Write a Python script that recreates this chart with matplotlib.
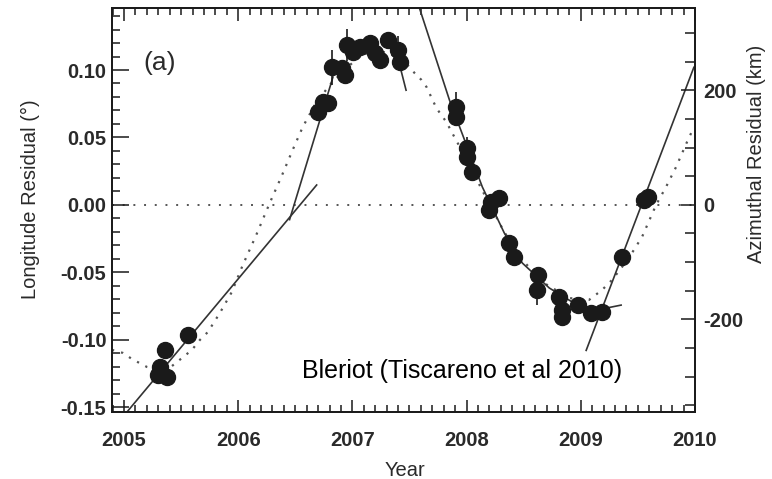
import matplotlib
matplotlib.use("Agg")
import matplotlib.pyplot as plt
from matplotlib.ticker import MultipleLocator
import numpy as np

plt.rcParams['font.family'] = ['Liberation Sans', 'DejaVu Sans']
plt.rcParams['axes.unicode_minus'] = False

# ---- data ----
obs_year = [2005.297, 2005.315, 2005.358, 2005.376, 2005.559,
            2006.696, 2006.740, 2006.783, 2006.818, 2006.906, 2006.932, 2006.949,
            2007.002, 2007.063, 2007.150, 2007.194, 2007.238, 2007.308, 2007.395, 2007.413,
            2007.911, 2007.911, 2008.007, 2008.007, 2008.051, 2008.199, 2008.217, 2008.287,
            2008.374, 2008.418, 2008.628, 2008.619, 2008.811, 2008.837, 2008.837,
            2008.977, 2009.091, 2009.187, 2009.362, 2009.554, 2009.589]
obs_resid = [-0.1264, -0.1204, -0.1077, -0.1279, -0.0963,
             0.0688, 0.0763, 0.0755, 0.1022, 0.1015, 0.0963, 0.1186,
             0.1134, 0.1171, 0.1200, 0.1126, 0.1074, 0.1223, 0.1149, 0.1060,
             0.0725, 0.0651, 0.0421, 0.0355, 0.0243, -0.0038, 0.0021, 0.0050,
             -0.0283, -0.0387, -0.0521, -0.0632, -0.0684, -0.0781, -0.0832,
             -0.0744, -0.0803, -0.0796, -0.0387, 0.0036, 0.0058]
obs_err = [0.004, 0.004, 0.004, 0.004, 0.004,
           0.006, 0.004, 0.004, 0.013, 0.004, 0.004, 0.012,
           0.004, 0.004, 0.004, 0.004, 0.004, 0.004, 0.010, 0.004,
           0.011, 0.004, 0.008, 0.004, 0.004, 0.004, 0.004, 0.004,
           0.004, 0.004, 0.004, 0.011, 0.004, 0.004, 0.004,
           0.004, 0.004, 0.004, 0.004, 0.004, 0.004]

# piecewise fits (solid lines)
fit1_year = [2005.026, 2006.687]
fit1_resid = [-0.1537, 0.0147]
fit2_year = [2006.45, 2006.83]
fit2_resid = [-0.011, 0.0948]
fit3_year = [2007.38, 2007.47]
fit3_resid = [0.115, 0.085]
fit4_year = [2007.587, 2007.850, 2008.138, 2008.330, 2008.488, 2008.724, 2008.925, 2009.135, 2009.353]
fit4_resid = [0.1460, 0.0777, 0.0132, -0.0209, -0.0432, -0.0617, -0.0721, -0.0781, -0.0744]
fit5_year = [2009.047, 2009.99]
fit5_resid = [-0.108, 0.102]

# dotted model curve
model_year = [2004.895, 2004.991, 2005.070, 2005.201, 2005.315, 2005.420, 2005.507, 2005.594,
              2005.664, 2005.734, 2005.839, 2005.944, 2006.040, 2006.154, 2006.276, 2006.381,
              2006.477, 2006.565, 2006.670, 2006.801, 2006.932, 2007.060, 2007.200, 2007.330,
              2007.483, 2007.544, 2007.605, 2007.649, 2007.736, 2007.823, 2007.893, 2007.955,
              2008.068, 2008.199, 2008.330, 2008.505, 2008.680, 2008.899, 2009.073, 2009.187,
              2009.274, 2009.362, 2009.449, 2009.537, 2009.659, 2009.746, 2009.834, 2009.930,
              2009.991]
model_resid = [-0.1076, -0.1099, -0.1144, -0.1203, -0.1226, -0.1196, -0.1137, -0.1077,
               -0.1003, -0.0944, -0.0803, -0.0647, -0.0447, -0.0232, 0.0013, 0.0214,
               0.0407, 0.0577, 0.0740, 0.0889, 0.1000, 0.1100, 0.1150, 0.1120,
               0.1037, 0.0978, 0.0926, 0.0874, 0.0717, 0.0614, 0.0503, 0.0407,
               0.0221, 0.0006, -0.0202, -0.0425, -0.0581, -0.0692, -0.0705, -0.0631,
               -0.0557, -0.0460, -0.0356, -0.0237, -0.0001, 0.0132, 0.0280, 0.0466,
               0.0577]

km_per_deg = 2354.0
xlim = (2004.895, 2010.0)
ylim = (-0.1537, 0.146)

# ---- figure ----
W, H = 772, 479
fig = plt.figure(figsize=(W / 100, H / 100), dpi=100)
L, R, T, B = 112, 695, 8, 412
ax = fig.add_axes([L / W, 1 - B / H, (R - L) / W, (B - T) / H])

ink = '#1a1a1a'
line_c = '#333333'
dot_c = '#555555'

ax.axhline(0, color=dot_c, lw=1.4, ls=(0, (1, 4.5)), zorder=1)
ax.plot(model_year, model_resid, color=dot_c, lw=1.6, ls=(0, (1, 3.2)), zorder=1)
for xs, ys in [(fit1_year, fit1_resid), (fit2_year, fit2_resid), (fit3_year, fit3_resid),
               (fit4_year, fit4_resid), (fit5_year, fit5_resid)]:
    ax.plot(xs, ys, color=line_c, lw=1.2, zorder=2)
ax.errorbar(obs_year, obs_resid, yerr=obs_err, fmt='o', color=ink, ms=11.5,
            elinewidth=1.2, capsize=0, zorder=3)

ax.set_xlim(*xlim)
ax.set_ylim(*ylim)
ax.xaxis.set_major_locator(MultipleLocator(1))
ax.xaxis.set_minor_locator(MultipleLocator(0.1))
ax.yaxis.set_major_locator(MultipleLocator(0.05))
ax.yaxis.set_minor_locator(MultipleLocator(0.01))
ax.yaxis.set_major_formatter(matplotlib.ticker.FormatStrFormatter('%.2f'))
ax.tick_params(which='both', direction='in', top=True, right=False, color=ink, width=1.1)
ax.tick_params(which='major', length=9)
ax.tick_params(which='minor', length=5)
ax.tick_params(axis='y', which='major', length=12, pad=4)
ax.tick_params(axis='y', which='minor', length=6)
ax.tick_params(axis='x', which='major', pad=14)
for sp in ax.spines.values():
    sp.set_linewidth(1.3)
    sp.set_color(ink)

ax2 = ax.twinx()
ax2.set_ylim(ylim[0] * km_per_deg, ylim[1] * km_per_deg)
ax2.yaxis.set_major_locator(MultipleLocator(200))
ax2.yaxis.set_minor_locator(MultipleLocator(50))
ax2.tick_params(which='both', direction='in', color=ink, width=1.1, pad=6)
ax2.tick_params(which='major', length=10)
ax2.tick_params(which='minor', length=7)
for sp in ax2.spines.values():
    sp.set_linewidth(1.3)
    sp.set_color(ink)

for lab in ax.get_xticklabels() + ax.get_yticklabels() + ax2.get_yticklabels():
    lab.set_fontsize(14.5)
    lab.set_fontweight('bold')
    lab.set_color('#2a2a2a')

def ft(px, py, s, **kw):
    fig.text(px / W, 1 - py / H, s, **kw)

ft(30, 199, 'Longitude Residual (°)', rotation=90, ha='center', va='center', fontsize=14.5, color='#2a2a2a')
ft(757, 154, 'Azimuthal Residual (km)', rotation=90, ha='center', va='center', fontsize=14.5, color='#2a2a2a')
ft(405, 470, 'Year', ha='center', va='center', fontsize=14.5, color='#2a2a2a')
ft(160, 63, '(a)', ha='center', va='center', fontsize=19, color='#2a2a2a')
ft(302, 378, 'Bleriot (Tiscareno et al 2010)', ha='left', va='baseline', fontsize=18, color='black')

fig.savefig('out.png', dpi=100)
